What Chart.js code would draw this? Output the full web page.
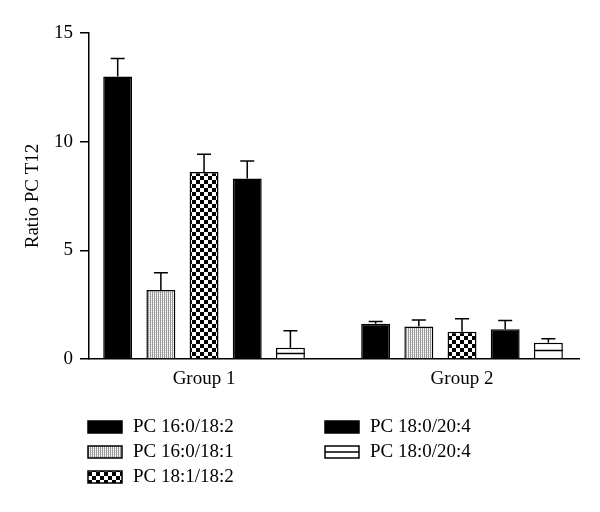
<!DOCTYPE html>
<html>
<head>
<meta charset="utf-8">
<script src="https://cdn.jsdelivr.net/npm/chart.js@4/dist/chart.umd.min.js"></script>
<style>
  html, body { margin: 0; padding: 0; background: #fff; }
</style>
</head>
<body>
<canvas id="ratioChart" width="600" height="512"></canvas>
<script>
// values
const groups = ['Group 1', 'Group 2'];
const seriesLabels = ['PC 16:0/18:2', 'PC 16:0/18:1', 'PC 18:1/18:2', 'PC 18:0/20:4', 'PC 18:0/20:4'];
const pc160_182 = [13.0, 1.62];
const pc160_181 = [3.18, 1.49];
const pc181_182 = [8.6, 1.25];
const pc180_204a = [8.3, 1.37];
const pc180_204b = [0.52, 0.75];
const err160_182 = [0.83, 0.10];
const err160_181 = [0.79, 0.30];
const err181_182 = [0.82, 0.60];
const err180_204a = [0.81, 0.40];
const err180_204b = [0.78, 0.18];
const yTicks = [0, 5, 10, 15];

const canvas = document.getElementById('ratioChart');
const ctx = canvas.getContext('2d');
const serif = 'Liberation Serif, Times New Roman, serif';

function makePattern(size, draw) {
    const c = document.createElement('canvas');
    c.width = size;
    c.height = size;
    const g = c.getContext('2d');
    g.fillStyle = '#fff';
    g.fillRect(0, 0, size, size);
    draw(g);
    return ctx.createPattern(c, 'repeat');
}

const dotted = makePattern(2, g => {
    g.fillStyle = '#999';
    g.fillRect(0, 0, 1, 2);
    g.fillStyle = '#ddd';
    g.fillRect(1, 0, 1, 1);
});
const checker = makePattern(8, g => {
    g.fillStyle = '#000';
    g.fillRect(0, 0, 4, 4);
    g.fillRect(4, 4, 4, 4);
});

const toPoints = vals => vals.map((v, i) => ({ x: i + 1, y: v }));

const series = [
    { data: pc160_182, err: err160_182, fill: '#000' },
    { data: pc160_181, err: err160_181, fill: dotted },
    { data: pc181_182, err: err181_182, fill: checker },
    { data: pc180_204a, err: err180_204a, fill: '#000' },
    { data: pc180_204b, err: err180_204b, fill: '#fff', midLine: true }
];

// error bars (upper only) + middle stripe of the last series
const barExtras = {
    id: 'barExtras',
    afterDatasetsDraw(chart) {
        const c = chart.ctx;
        const y = chart.scales.y;
        c.save();
        c.strokeStyle = '#000';
        c.lineWidth = 1.5;
        chart.data.datasets.forEach((ds, i) => {
            const meta = chart.getDatasetMeta(i);
            meta.data.forEach((bar, j) => {
                if (ds.midLine) {
                    const my = Math.round((bar.y + bar.base) / 2) + 0.5;
                    c.beginPath();
                    c.moveTo(bar.x - bar.width / 2, my);
                    c.lineTo(bar.x + bar.width / 2, my);
                    c.stroke();
                }
                const top = y.getPixelForValue(ds.data[j].y + ds.errors[j]);
                c.beginPath();
                c.moveTo(bar.x, bar.y);
                c.lineTo(bar.x, top);
                c.moveTo(bar.x - 7, top);
                c.lineTo(bar.x + 7, top);
                c.stroke();
            });
        });
        c.restore();
    }
};

// two-column legend under the plot
const columnLegend = {
    id: 'columnLegend',
    afterDraw(chart) {
        const c = chart.ctx;
        const slots = [[88, 421], [88, 446], [88, 471], [325, 421], [325, 446]];
        c.save();
        c.font = '19px ' + serif;
        c.textBaseline = 'middle';
        c.fillStyle = '#000';
        chart.data.datasets.forEach((ds, i) => {
            const [bx, by] = slots[i];
            c.fillStyle = ds.backgroundColor;
            c.fillRect(bx, by, 34, 12);
            c.strokeStyle = '#000';
            c.lineWidth = 1.5;
            c.strokeRect(bx, by, 34, 12);
            if (ds.midLine) {
                c.beginPath();
                c.moveTo(bx, by + 6);
                c.lineTo(bx + 34, by + 6);
                c.stroke();
            }
            c.fillStyle = '#000';
            c.fillText(ds.label, bx + 45, by + 6);
        });
        c.restore();
    }
};

new Chart(ctx, {
    type: 'bar',
    data: {
        datasets: series.map((s, i) => ({
            label: seriesLabels[i],
            data: toPoints(s.data),
            errors: s.err,
            midLine: !!s.midLine,
            backgroundColor: s.fill,
            borderColor: '#000',
            borderWidth: 1.5,
            categoryPercentage: 0.837,
            barPercentage: 0.67
        }))
    },
    options: {
        responsive: false,
        animation: false,
        layout: { padding: { top: 33, right: 21, bottom: 113, left: 0 } },
        plugins: {
            legend: { display: false },
            tooltip: { enabled: false }
        },
        scales: {
            x: {
                type: 'linear',
                min: 0.554,
                max: 2.4535,
                offset: false,
                grid: { display: false, drawTicks: false },
                border: { display: true, color: '#000', width: 1.5 },
                afterBuildTicks: s => { s.ticks = groups.map((g, i) => ({ value: i + 1 })); },
                afterFit: s => { s.height = 40; },
                ticks: {
                    autoSkip: false,
                    maxRotation: 0,
                    padding: 9,
                    color: '#000',
                    font: { family: serif, size: 19 },
                    callback: v => groups[v - 1]
                }
            },
            y: {
                min: 0,
                max: 15,
                afterBuildTicks: s => { s.ticks = yTicks.map(v => ({ value: v })); },
                afterFit: s => { s.width = 89; },
                grid: {
                    display: true,
                    drawOnChartArea: false,
                    drawTicks: true,
                    tickLength: 9,
                    color: '#000',
                    lineWidth: 1.5
                },
                border: { display: true, color: '#000', width: 1.5 },
                ticks: {
                    padding: 7,
                    color: '#000',
                    font: { family: serif, size: 19 }
                },
                title: {
                    display: true,
                    text: 'Ratio PC T12',
                    color: '#000',
                    padding: { top: 22 },
                    font: { family: serif, size: 19 }
                }
            }
        }
    },
    plugins: [barExtras, columnLegend]
});
</script>
</body>
</html>
